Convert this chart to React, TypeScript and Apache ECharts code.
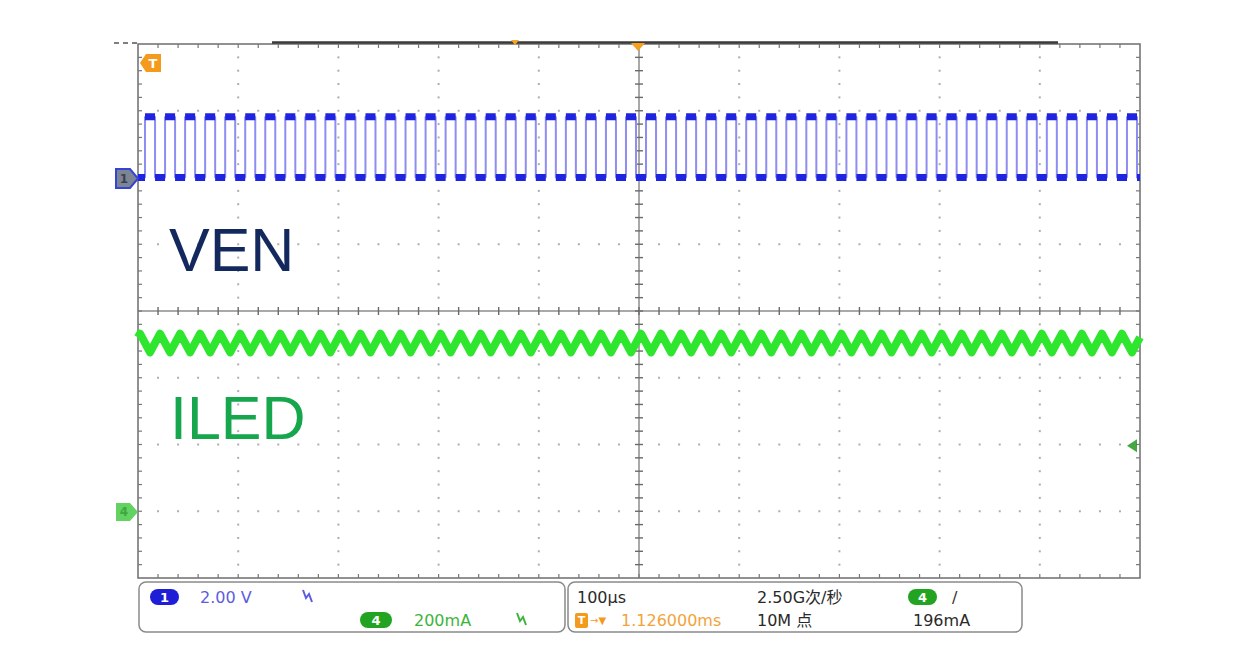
import React, { useEffect, useRef } from "react";
import * as echarts from "echarts";

// ---- Scope settings ----
const timeRangeUs = [0, 1000]; // 10 div x 100 µs
const divRange = [-4, 4]; // 8 vertical divisions

// VEN (channel 1, 2.00 V/div, ground marker 2 div above centre)
const venRiseUs = [
  7, 27, 47, 67, 87, 107, 127, 147, 167, 187, 207, 227, 247, 267, 287, 307, 327,
  347, 367, 387, 407, 427, 447, 467, 487, 507, 527, 547, 567, 587, 607, 627, 647,
  667, 687, 707, 727, 747, 767, 787, 807, 827, 847, 867, 887, 907, 927, 947, 967, 987,
];
const venHighWidthUs = 10;
const venLevelsV = [0, 1.82]; // low, high
const venVoltsPerDiv = 2;
const venGroundDiv = 2;

// ILED (channel 4, 200 mA/div, ground marker 3 div below centre)
const iledPeakUs = [
  2, 22, 42, 62, 82, 102, 122, 142, 162, 182, 202, 222, 242, 262, 282, 302, 322,
  342, 362, 382, 402, 422, 442, 462, 482, 502, 522, 542, 562, 582, 602, 622, 642,
  662, 682, 702, 722, 742, 762, 782, 802, 822, 842, 862, 882, 902, 922, 942, 962, 982,
];
const iledValleyDelayUs = 10;
const iledLevelsMA = [476, 532]; // valley, peak
const iledStartMA = 521;
const iledEndMA = 521;
const iledMAPerDiv = 200;
const iledGroundDiv = -3;
const triggerLevelMA = 196;

// ---- helpers ----
const venDiv = (v: number) => venGroundDiv + v / venVoltsPerDiv;
const iledDiv = (ma: number) => iledGroundDiv + ma / iledMAPerDiv;

function buildVenStep() {
  const [lo, hi] = venLevelsV;
  const pts: any[] = [[timeRangeUs[0], venDiv(lo)]];
  venRiseUs.forEach((r) => {
    const f = r + venHighWidthUs;
    pts.push([r, venDiv(lo)], [r, venDiv(hi)], [f, venDiv(hi)], [f, venDiv(lo)]);
  });
  pts.push([timeRangeUs[1], venDiv(lo)]);
  return pts;
}

function buildVenFlats() {
  const [lo, hi] = venLevelsV;
  const pts: any[] = [];
  let lastFall = timeRangeUs[0];
  venRiseUs.forEach((r) => {
    const f = r + venHighWidthUs;
    pts.push([lastFall, venDiv(lo)], [r, venDiv(lo)], ["-", "-"]);
    pts.push([r, venDiv(hi)], [f, venDiv(hi)], ["-", "-"]);
    lastFall = f;
  });
  pts.push([lastFall, venDiv(lo)], [timeRangeUs[1], venDiv(lo)]);
  return pts;
}

function buildIled() {
  const [valley, peak] = iledLevelsMA;
  const pts: any[] = [[timeRangeUs[0], iledDiv(iledStartMA)]];
  iledPeakUs.forEach((p) => {
    pts.push([p, iledDiv(peak)], [p + iledValleyDelayUs, iledDiv(valley)]);
  });
  pts.push([timeRangeUs[1], iledDiv(iledEndMA)]);
  return pts;
}

function graticule(params: any, api: any) {
  const ch: any[] = [];
  const c = (x: number, y: number) => api.coord([x, y]);
  const [x0, x1] = timeRangeUs;
  const [y0, y1] = divRange;
  const nxMinor = 50;
  const nyMinor = 40;
  const xm = (i: number) => x0 + ((x1 - x0) * i) / nxMinor;
  const ym = (j: number) => y0 + ((y1 - y0) * j) / nyMinor;
  const dot = "#adadad";
  // dotted grid along vertical division lines
  for (let k = 1; k < 10; k++) {
    if (k === 5) continue;
    for (let j = 1; j < nyMinor; j++) {
      if (j === 20) continue;
      const p = c(xm(k * 5), ym(j));
      ch.push({ type: "rect", shape: { x: p[0] - 1, y: p[1] - 1, width: 2, height: 2 }, style: { fill: dot } });
    }
  }
  // dotted grid along horizontal division lines
  for (let k = 1; k < 8; k++) {
    if (k === 4) continue;
    for (let i = 1; i < nxMinor; i++) {
      if (i % 5 === 0) continue;
      const p = c(xm(i), ym(k * 5));
      ch.push({ type: "rect", shape: { x: p[0] - 1, y: p[1] - 1, width: 2, height: 2 }, style: { fill: dot } });
    }
  }
  // centre lines
  const cl = c(x0, 0), cr = c(x1, 0), ct = c(500, y1), cb = c(500, y0);
  ch.push({ type: "line", shape: { x1: cl[0], y1: cl[1], x2: cr[0], y2: cr[1] }, style: { stroke: "#8c8c8c", lineWidth: 1.5 } });
  ch.push({ type: "line", shape: { x1: ct[0], y1: ct[1], x2: cb[0], y2: cb[1] }, style: { stroke: "#8c8c8c", lineWidth: 1.5 } });
  for (let i = 1; i < nxMinor; i++) {
    const p = c(xm(i), 0);
    ch.push({ type: "line", shape: { x1: p[0], y1: p[1] - 4, x2: p[0], y2: p[1] + 4 }, style: { stroke: "#6a6a6a", lineWidth: 1.4 } });
  }
  for (let j = 1; j < nyMinor; j++) {
    const p = c(500, ym(j));
    ch.push({ type: "line", shape: { x1: p[0] - 4, y1: p[1], x2: p[0] + 4, y2: p[1] }, style: { stroke: "#6a6a6a", lineWidth: 1.4 } });
  }
  // border with inward ticks
  const tl = c(x0, y1), br = c(x1, y0);
  ch.push({ type: "rect", shape: { x: tl[0], y: tl[1], width: br[0] - tl[0], height: br[1] - tl[1] }, style: { fill: "none", stroke: "#6e6e6e", lineWidth: 1.5 } });
  for (let i = 1; i < nxMinor; i++) {
    const t = c(xm(i), y1), b = c(xm(i), y0);
    ch.push({ type: "line", shape: { x1: t[0], y1: t[1], x2: t[0], y2: t[1] + 4 }, style: { stroke: "#777", lineWidth: 1.2 } });
    ch.push({ type: "line", shape: { x1: b[0], y1: b[1], x2: b[0], y2: b[1] - 4 }, style: { stroke: "#777", lineWidth: 1.2 } });
  }
  for (let j = 1; j < nyMinor; j++) {
    const l = c(x0, ym(j)), r = c(x1, ym(j));
    ch.push({ type: "line", shape: { x1: l[0], y1: l[1], x2: l[0] + 4, y2: l[1] }, style: { stroke: "#777", lineWidth: 1.2 } });
    ch.push({ type: "line", shape: { x1: r[0], y1: r[1], x2: r[0] - 4, y2: r[1] }, style: { stroke: "#777", lineWidth: 1.2 } });
  }
  return { type: "group", children: ch };
}

const panelFont = '16px "DejaVu Sans", "Noto Sans CJK SC", sans-serif';

function txt(text: string, x: number, y: number, fill: string, font = panelFont, align = "left") {
  return {
    type: "text",
    x,
    y,
    z: 20,
    style: { text, fill, font, textAlign: align, textVerticalAlign: "middle", align, verticalAlign: "middle" },
  };
}

function pill(label: string, x: number, y: number, w: number, fill: string) {
  return [
    { type: "rect", z: 19, shape: { x, y: y - 8, width: w, height: 16, r: 8 }, style: { fill } },
    txt(label, x + w / 2, y, "#ffffff", 'bold 13px "DejaVu Sans", sans-serif', "center"),
  ];
}

export default function App() {
  const ref = useRef<HTMLDivElement>(null);

  useEffect(() => {
    if (!ref.current) return;
    const chart = echarts.init(ref.current, undefined, { renderer: "svg" });
    const triggerDiv = iledDiv(triggerLevelMA);

    const option: any = {
      animation: false,
      backgroundColor: "#ffffff",
      grid: { left: 138, top: 44, width: 1002, height: 534 },
      xAxis: { type: "value", min: timeRangeUs[0], max: timeRangeUs[1], show: false },
      yAxis: { type: "value", min: divRange[0], max: divRange[1], show: false },
      series: [
        {
          type: "custom",
          name: "graticule",
          data: [[0, 0]],
          renderItem: graticule,
          silent: true,
          clip: false,
          z: 1,
        },
        {
          type: "line",
          name: "ILED",
          data: buildIled(),
          showSymbol: false,
          lineStyle: { color: "#2fe62f", width: 8, join: "round" },
          z: 3,
        },
        {
          type: "line",
          name: "VEN",
          data: buildVenStep(),
          showSymbol: false,
          lineStyle: { color: "#8e8ef2", width: 2 },
          z: 4,
        },
        {
          type: "line",
          name: "VEN levels",
          data: buildVenFlats(),
          showSymbol: false,
          connectNulls: false,
          lineStyle: { color: "#1f24e0", width: 7 },
          z: 5,
        },
        {
          type: "scatter",
          name: "ILED trigger level",
          data: [[timeRangeUs[1] - 8, triggerDiv]],
          symbol: "triangle",
          symbolRotate: 90,
          symbolSize: [13, 10],
          itemStyle: { color: "#169216" },
          z: 6,
        },
      ],
      graphic: [
        // top memory bar / border decorations
        { type: "line", z: 10, shape: { x1: 114, y1: 43, x2: 137, y2: 43 }, style: { stroke: "#555", lineWidth: 1.5, lineDash: [5, 4] } },
        { type: "line", z: 10, shape: { x1: 272, y1: 42.5, x2: 1058, y2: 42.5 }, style: { stroke: "#3a3a3a", lineWidth: 2.5 } },
        { type: "polygon", z: 10, shape: { points: [[511, 40], [519, 40], [515, 45]] }, style: { fill: "#f5a623" } },
        { type: "polygon", z: 10, shape: { points: [[631, 43], [645, 43], [638, 51]] }, style: { fill: "#f5a020" } },
        // trigger T marker
        { type: "polygon", z: 10, shape: { points: [[140, 63], [146, 54], [161, 54], [161, 72], [146, 72]] }, style: { fill: "#f49a1c" } },
        txt("T", 153, 63, "#ffffff", 'bold 13px "DejaVu Sans", sans-serif', "center"),
        // channel ground markers
        { type: "polygon", z: 10, shape: { points: [[116, 169], [130, 169], [138, 178.5], [130, 188], [116, 188]] }, style: { fill: "#7d8494", stroke: "#3444d4", lineWidth: 2 } },
        txt("1", 124, 179, "#3a3f55", 'bold 12px "DejaVu Sans", sans-serif', "center"),
        { type: "polygon", z: 10, shape: { points: [[116, 503], [130, 503], [138, 512], [130, 521], [116, 521]] }, style: { fill: "#62d262" } },
        txt("4", 124, 512, "#3da83d", 'bold 12px "DejaVu Sans", sans-serif', "center"),
        // trace labels
        { type: "text", z: 10, x: 169, y: 280, style: { text: "VEN", fill: "#13285c", font: '61px "Liberation Sans", Arial, sans-serif', textVerticalAlign: "bottom", verticalAlign: "bottom" } },
        { type: "text", z: 10, x: 170, y: 448, style: { text: "ILED", fill: "#16a64c", font: '61px "Liberation Sans", Arial, sans-serif', textVerticalAlign: "bottom", verticalAlign: "bottom" } },
        // bottom info panels
        { type: "rect", z: 18, shape: { x: 139, y: 582, width: 426, height: 50, r: 7 }, style: { fill: "#ffffff", stroke: "#8a8a8a", lineWidth: 1.5 } },
        { type: "rect", z: 18, shape: { x: 568, y: 582, width: 454, height: 50, r: 7 }, style: { fill: "#ffffff", stroke: "#8a8a8a", lineWidth: 1.5 } },
        ...pill("1", 150, 597, 29, "#1e1ed6"),
        txt("2.00 V", 200, 597, "#5c5ce0"),
        { type: "polyline", z: 20, shape: { points: [[303, 590], [306, 598], [309, 594], [312, 602]] }, style: { stroke: "#5c5ce0", lineWidth: 2, fill: "none" } },
        ...pill("4", 360, 620, 32, "#22a422"),
        txt("200mA", 414, 620, "#3cb43c"),
        { type: "polyline", z: 20, shape: { points: [[517, 613], [520, 621], [523, 617], [526, 625]] }, style: { stroke: "#3cb43c", lineWidth: 2, fill: "none" } },
        txt("100µs", 577, 597, "#2a2a2a"),
        txt("2.50G次/秒", 757, 597, "#2a2a2a"),
        ...pill("4", 908, 597, 29, "#22a422"),
        txt("/", 952, 597, "#333333"),
        { type: "rect", z: 19, shape: { x: 575, y: 613, width: 13, height: 15, r: 2 }, style: { fill: "#f49a1c" } },
        txt("T", 581.5, 620.5, "#ffffff", 'bold 11px "DejaVu Sans", sans-serif', "center"),
        txt("→▼", 590, 620, "#f49a1c", '10px "DejaVu Sans", sans-serif'),
        txt("1.126000ms", 621, 620, "#f2a43a"),
        txt("10M 点", 757, 620, "#2a2a2a"),
        txt("196mA", 913, 620, "#2a2a2a"),
      ],
    };
    chart.setOption(option);
    return () => chart.dispose();
  }, []);

  return <div ref={ref} style={{ position: "fixed", left: 0, top: 0, width: 1242, height: 661, background: "#fff" }} />;
}
